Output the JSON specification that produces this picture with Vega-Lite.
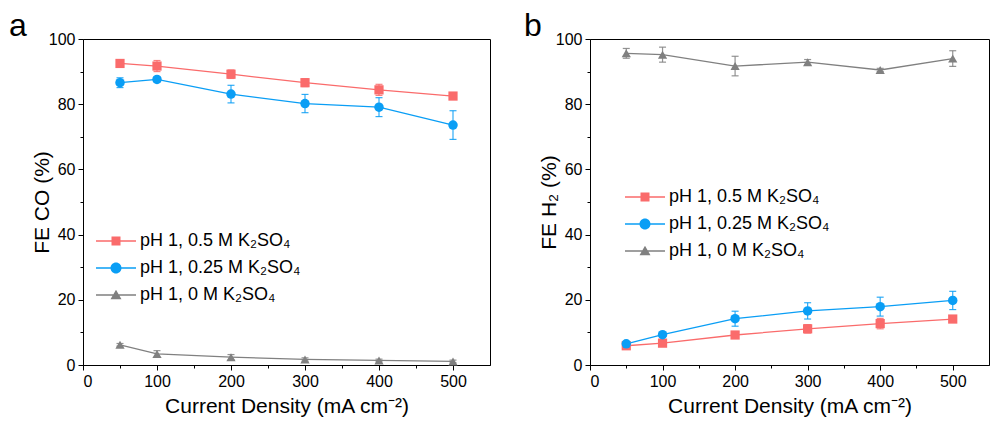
{
  "$schema": "https://vega.github.io/schema/vega-lite/v6.json",
  "background": "white",
  "padding": {"left": 8, "top": 9, "right": 0, "bottom": 0},
  "bounds": "flush",
  "spacing": 100,
  "resolve": {"scale": {"color": "independent"}},
  "datasets": {
    "fa": [
      {"s": "pH 1, 0.5 M K₂SO₄", "j": 50, "v": 92.5, "e": 1.0},
      {"s": "pH 1, 0.5 M K₂SO₄", "j": 100, "v": 91.7, "e": 1.7},
      {"s": "pH 1, 0.5 M K₂SO₄", "j": 200, "v": 89.2, "e": 1.3},
      {"s": "pH 1, 0.5 M K₂SO₄", "j": 300, "v": 86.6, "e": 1.2},
      {"s": "pH 1, 0.5 M K₂SO₄", "j": 400, "v": 84.4, "e": 1.7},
      {"s": "pH 1, 0.5 M K₂SO₄", "j": 500, "v": 82.5, "e": 0.9},
      {"s": "pH 1, 0.25 M K₂SO₄", "j": 50, "v": 86.6, "e": 1.5},
      {"s": "pH 1, 0.25 M K₂SO₄", "j": 100, "v": 87.6, "e": 0.7},
      {"s": "pH 1, 0.25 M K₂SO₄", "j": 200, "v": 83.1, "e": 2.7},
      {"s": "pH 1, 0.25 M K₂SO₄", "j": 300, "v": 80.2, "e": 2.8},
      {"s": "pH 1, 0.25 M K₂SO₄", "j": 400, "v": 79.1, "e": 2.9},
      {"s": "pH 1, 0.25 M K₂SO₄", "j": 500, "v": 73.6, "e": 4.4},
      {"s": "pH 1, 0 M K₂SO₄", "j": 50, "v": 6.2, "e": 0.4},
      {"s": "pH 1, 0 M K₂SO₄", "j": 100, "v": 3.4, "e": 1.0},
      {"s": "pH 1, 0 M K₂SO₄", "j": 200, "v": 2.4, "e": 0.8},
      {"s": "pH 1, 0 M K₂SO₄", "j": 300, "v": 1.7, "e": 0.5},
      {"s": "pH 1, 0 M K₂SO₄", "j": 400, "v": 1.4, "e": 0.4},
      {"s": "pH 1, 0 M K₂SO₄", "j": 500, "v": 1.1, "e": 0.4}
    ],
    "fb": [
      {"s": "pH 1, 0.5 M K₂SO₄", "j": 50, "v": 5.9, "e": 0.4},
      {"s": "pH 1, 0.5 M K₂SO₄", "j": 100, "v": 6.7, "e": 0.5},
      {"s": "pH 1, 0.5 M K₂SO₄", "j": 200, "v": 9.2, "e": 0.6},
      {"s": "pH 1, 0.5 M K₂SO₄", "j": 300, "v": 11.1, "e": 1.3},
      {"s": "pH 1, 0.5 M K₂SO₄", "j": 400, "v": 12.7, "e": 1.6},
      {"s": "pH 1, 0.5 M K₂SO₄", "j": 500, "v": 14.1, "e": 0.8},
      {"s": "pH 1, 0.25 M K₂SO₄", "j": 50, "v": 6.5, "e": 0.5},
      {"s": "pH 1, 0.25 M K₂SO₄", "j": 100, "v": 9.3, "e": 0.6},
      {"s": "pH 1, 0.25 M K₂SO₄", "j": 200, "v": 14.2, "e": 2.3},
      {"s": "pH 1, 0.25 M K₂SO₄", "j": 300, "v": 16.6, "e": 2.5},
      {"s": "pH 1, 0.25 M K₂SO₄", "j": 400, "v": 17.9, "e": 2.9},
      {"s": "pH 1, 0.25 M K₂SO₄", "j": 500, "v": 19.8, "e": 2.8},
      {"s": "pH 1, 0 M K₂SO₄", "j": 50, "v": 95.6, "e": 1.5},
      {"s": "pH 1, 0 M K₂SO₄", "j": 100, "v": 95.2, "e": 2.3},
      {"s": "pH 1, 0 M K₂SO₄", "j": 200, "v": 91.7, "e": 3.0},
      {"s": "pH 1, 0 M K₂SO₄", "j": 300, "v": 92.9, "e": 0.8},
      {"s": "pH 1, 0 M K₂SO₄", "j": 400, "v": 90.5, "e": 0.5},
      {"s": "pH 1, 0 M K₂SO₄", "j": 500, "v": 94.0, "e": 2.4}
    ]
  },
  "hconcat": [
    {
      "width": 407,
      "height": 326,
      "title": {"text": "a", "anchor": "start", "frame": "group", "dx": -74, "offset": -37, "baseline": "alphabetic", "fontSize": 32, "fontWeight": "normal", "font": "Liberation Sans", "color": "black"},
      "data": {"name": "fa"},
      "resolve": {"axis": {"x": "independent", "y": "independent"}},
      "layer": [
        {
          "mark": {"type": "line", "strokeWidth": 1.3},
          "encoding": {
            "x": {"field": "j", "type": "quantitative", "scale": {"domain": [0, 550], "nice": false},
                  "axis": {"values": [0, 100, 200, 300, 400, 500], "title": "Current Density (mA cm⁻²)", "tickSize": 5, "labelPadding": 3, "titlePadding": 6, "orient": "bottom"}},
            "y": {"field": "v", "type": "quantitative", "scale": {"domain": [0, 100], "nice": false},
                  "axis": {"values": [0, 20, 40, 60, 80, 100], "title": "FE CO (%)", "tickSize": 5, "labelPadding": 3, "titlePadding": -4, "orient": "left"}},
            "color": {"field": "s", "type": "nominal",
                      "scale": {"domain": ["pH 1, 0.5 M K₂SO₄", "pH 1, 0.25 M K₂SO₄", "pH 1, 0 M K₂SO₄"], "range": ["#fa6b6b", "#0a9ef5", "#808080"]},
                      "legend": {"orient": "none", "legendX": 23, "legendY": 192, "title": null,
                                 "encode": {"symbols": {"update": {
                                   "shape": {"signal": "['M-2,-0.07H2V0.07H-2Z M-0.45,-0.45H0.45V0.45H-0.45Z', 'M-2,-0.07H2V0.07H-2Z M-0.55,0A0.55,0.55 0 1,1 0.55,0A0.55,0.55 0 1,1 -0.55,0Z', 'M-2,-0.07H2V0.07H-2Z M-0.55,0.42L0,-0.52L0.55,0.42Z'][datum.index]"},
                                   "fill": {"signal": "['#fa6b6b', '#0a9ef5', '#808080'][datum.index]"},
                                   "stroke": {"value": "transparent"},
                                   "strokeWidth": {"value": 0},
                                   "opacity": {"value": 1}}}}}}
          }
        },
        {
          "mark": {"type": "errorbar", "ticks": {"size": 7}, "thickness": 1.2, "opacity": 0.85},
          "encoding": {
            "x": {"field": "j", "type": "quantitative", "axis": null},
            "y": {"field": "v", "type": "quantitative", "axis": null},
            "yError": {"field": "e"},
            "color": {"field": "s", "type": "nominal", "legend": null}
          }
        },
        {
          "transform": [{"filter": {"field": "s", "equal": "pH 1, 0.5 M K₂SO₄"}}],
          "mark": {"type": "point", "shape": "square", "filled": true, "opacity": 1, "size": 85},
          "encoding": {
            "x": {"field": "j", "type": "quantitative",
                  "axis": {"values": [50, 150, 250, 350, 450], "labels": false, "domain": false, "title": null, "tickSize": 3, "orient": "bottom"}},
            "y": {"field": "v", "type": "quantitative",
                  "axis": {"values": [10, 30, 50, 70, 90], "labels": false, "domain": false, "title": null, "tickSize": 3, "orient": "left"}},
            "color": {"field": "s", "type": "nominal", "legend": null}
          }
        },
        {
          "transform": [{"filter": {"field": "s", "equal": "pH 1, 0.25 M K₂SO₄"}}],
          "mark": {"type": "point", "shape": "circle", "filled": true, "opacity": 1, "size": 90},
          "encoding": {
            "x": {"field": "j", "type": "quantitative", "axis": null},
            "y": {"field": "v", "type": "quantitative", "axis": null},
            "color": {"field": "s", "type": "nominal", "legend": null}
          }
        },
        {
          "transform": [{"filter": {"field": "s", "equal": "pH 1, 0 M K₂SO₄"}}],
          "mark": {"type": "point", "shape": "triangle-up", "filled": true, "opacity": 1, "size": 85},
          "encoding": {
            "x": {"field": "j", "type": "quantitative", "axis": null},
            "y": {"field": "v", "type": "quantitative", "axis": null},
            "color": {"field": "s", "type": "nominal", "legend": null}
          }
        }
      ]
    },
    {
      "width": 399,
      "height": 326,
      "title": {"text": "b", "anchor": "start", "frame": "group", "dx": -66, "offset": -37, "baseline": "alphabetic", "fontSize": 32, "fontWeight": "normal", "font": "Liberation Sans", "color": "black"},
      "data": {"name": "fb"},
      "resolve": {"axis": {"x": "independent", "y": "independent"}},
      "layer": [
        {
          "mark": {"type": "line", "strokeWidth": 1.3},
          "encoding": {
            "x": {"field": "j", "type": "quantitative", "scale": {"domain": [0, 550], "nice": false},
                  "axis": {"values": [0, 100, 200, 300, 400, 500], "title": "Current Density (mA cm⁻²)", "tickSize": 5, "labelPadding": 3, "titlePadding": 6, "orient": "bottom"}},
            "y": {"field": "v", "type": "quantitative", "scale": {"domain": [0, 100], "nice": false},
                  "axis": {"values": [0, 20, 40, 60, 80, 100], "title": "FE H₂ (%)", "tickSize": 5, "labelPadding": 3, "titlePadding": -4, "orient": "left"}},
            "color": {"field": "s", "type": "nominal",
                      "scale": {"domain": ["pH 1, 0.5 M K₂SO₄", "pH 1, 0.25 M K₂SO₄", "pH 1, 0 M K₂SO₄"], "range": ["#fa6b6b", "#0a9ef5", "#808080"]},
                      "legend": {"orient": "none", "legendX": 45, "legendY": 148, "title": null,
                                 "encode": {"symbols": {"update": {
                                   "shape": {"signal": "['M-2,-0.07H2V0.07H-2Z M-0.45,-0.45H0.45V0.45H-0.45Z', 'M-2,-0.07H2V0.07H-2Z M-0.55,0A0.55,0.55 0 1,1 0.55,0A0.55,0.55 0 1,1 -0.55,0Z', 'M-2,-0.07H2V0.07H-2Z M-0.55,0.42L0,-0.52L0.55,0.42Z'][datum.index]"},
                                   "fill": {"signal": "['#fa6b6b', '#0a9ef5', '#808080'][datum.index]"},
                                   "stroke": {"value": "transparent"},
                                   "strokeWidth": {"value": 0},
                                   "opacity": {"value": 1}}}}}}
          }
        },
        {
          "mark": {"type": "errorbar", "ticks": {"size": 7}, "thickness": 1.2, "opacity": 0.85},
          "encoding": {
            "x": {"field": "j", "type": "quantitative", "axis": null},
            "y": {"field": "v", "type": "quantitative", "axis": null},
            "yError": {"field": "e"},
            "color": {"field": "s", "type": "nominal", "legend": null}
          }
        },
        {
          "transform": [{"filter": {"field": "s", "equal": "pH 1, 0.5 M K₂SO₄"}}],
          "mark": {"type": "point", "shape": "square", "filled": true, "opacity": 1, "size": 85},
          "encoding": {
            "x": {"field": "j", "type": "quantitative",
                  "axis": {"values": [50, 150, 250, 350, 450], "labels": false, "domain": false, "title": null, "tickSize": 3, "orient": "bottom"}},
            "y": {"field": "v", "type": "quantitative",
                  "axis": {"values": [10, 30, 50, 70, 90], "labels": false, "domain": false, "title": null, "tickSize": 3, "orient": "left"}},
            "color": {"field": "s", "type": "nominal", "legend": null}
          }
        },
        {
          "transform": [{"filter": {"field": "s", "equal": "pH 1, 0.25 M K₂SO₄"}}],
          "mark": {"type": "point", "shape": "circle", "filled": true, "opacity": 1, "size": 90},
          "encoding": {
            "x": {"field": "j", "type": "quantitative", "axis": null},
            "y": {"field": "v", "type": "quantitative", "axis": null},
            "color": {"field": "s", "type": "nominal", "legend": null}
          }
        },
        {
          "transform": [{"filter": {"field": "s", "equal": "pH 1, 0 M K₂SO₄"}}],
          "mark": {"type": "point", "shape": "triangle-up", "filled": true, "opacity": 1, "size": 85},
          "encoding": {
            "x": {"field": "j", "type": "quantitative", "axis": null},
            "y": {"field": "v", "type": "quantitative", "axis": null},
            "color": {"field": "s", "type": "nominal", "legend": null}
          }
        }
      ]
    }
  ],
  "config": {
    "font": "Liberation Sans",
    "view": {"stroke": "black", "strokeWidth": 1},
    "axis": {"grid": false, "domainColor": "black", "tickColor": "black", "labelColor": "black", "titleColor": "black",
             "labelFontSize": 16, "titleFontSize": 21, "titleFontWeight": "normal", "labelFont": "Liberation Sans", "titleFont": "Liberation Sans",
             "domainWidth": 1, "tickWidth": 1},
    "legend": {"labelFontSize": 18, "labelFont": "Liberation Sans", "labelColor": "black", "symbolSize": 400, "labelOffset": 14,
               "rowPadding": 8, "padding": 0, "labelLimit": 400, "symbolStrokeWidth": 0}
  }
}
